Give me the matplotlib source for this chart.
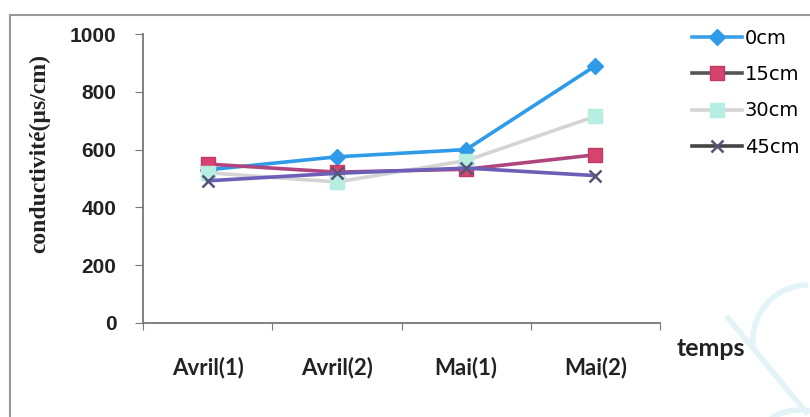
import matplotlib.pyplot as plt
from matplotlib.lines import Line2D
from matplotlib.patches import Arc

# sampling periods and conductivity per depth (µs/cm)
periods = ['Avril(1)', 'Avril(2)', 'Mai(1)', 'Mai(2)']
depths = ['0cm', '15cm', '30cm', '45cm']
cond_0cm = [530, 575, 600, 890]
cond_15cm = [550, 522, 532, 582]
cond_30cm = [520, 488, 562, 715]
cond_45cm = [492, 518, 536, 510]
yticks = [0, 200, 400, 600, 800, 1000]

series = [cond_0cm, cond_15cm, cond_30cm, cond_45cm]
styles = [
    dict(color='#2f9be8', marker='D', ms=8, mfc='#2f9be8', mec='#2f9be8'),
    dict(color='#b0447e', marker='s', ms=10, mfc='#d6436e', mec='#c23a62'),
    dict(color='#d4d4d4', marker='s', ms=10, mfc='#b6efe2', mec='#b6efe2'),
    dict(color='#6c5fb8', marker='x', ms=9, mew=1.8, mec='#555577'),
]

fig = plt.figure(figsize=(8.1, 4.17), dpi=100)

# faint watermark strokes in the lower right corner (drawn first, behind everything)
wm = '#e2f4f6'
fig.add_artist(Line2D([728 / 810, 806 / 810], [1 - 318 / 417, 1 - 412 / 417], color=wm, lw=4, zorder=0))
fig.add_artist(Arc((808 / 810, 1 - 340 / 417), 110 / 810, 110 / 417, theta1=90, theta2=190,
                   transform=fig.transFigure, color=wm, lw=4, zorder=0))
fig.add_artist(Arc((800 / 810, 1 - 430 / 417), 70 / 810, 40 / 417, theta1=20, theta2=160,
                   transform=fig.transFigure, color=wm, lw=4, zorder=0))

ax = fig.add_axes([143 / 810, 1 - 323 / 417, (660 - 143) / 810, (323 - 34) / 417])
ax.patch.set_alpha(0)

x = list(range(len(periods)))
for vals, st in zip(series, styles):
    ax.plot(x, vals, lw=2.6, **st)

ax.set_xlim(-0.5, len(periods) - 0.5)
ax.set_ylim(0, 1000)
ax.set_yticks(yticks)
ax.set_yticklabels([str(v) for v in yticks], fontsize=15, fontweight='bold',
                   family='Liberation Sans', color='#222222')

# category boundaries carry the tick marks, labels sit in between
ax.set_xticks([i - 0.5 for i in range(len(periods) + 1)])
ax.set_xticklabels([])
ax.set_xticks(x, minor=True)
ax.set_xticklabels(periods, minor=True, fontsize=16, fontweight='bold',
                   family='Lato', color='#222222')
ax.tick_params(axis='x', which='minor', length=0, pad=24)
ax.tick_params(axis='x', which='major', length=5, color='#777777', direction='out')
ax.tick_params(axis='y', length=6, color='#777777', pad=13)

for side in ['top', 'right']:
    ax.spines[side].set_visible(False)
for side in ['left', 'bottom']:
    ax.spines[side].set_color('#777777')
    ax.spines[side].set_linewidth(1.3)

fig.text(40 / 810, 1 - 154 / 417, 'conductivité(µs/cm)', rotation=90,
         ha='center', va='center', fontsize=17, fontweight='bold',
         family='Liberation Serif', color='#222222')
fig.text(711 / 810, 1 - 348 / 417, 'temps', ha='center', va='center',
         fontsize=18, fontweight='bold', family='Lato', color='#222222')

handles = [Line2D([], [], lw=2.6, **st) for st in styles]
handles[0].set_color('#3aa0e8')
handles[1].set_color('#555555')
handles[3].set_color('#444444')
fig.legend(handles, depths, loc='upper left', bbox_to_anchor=(674 / 810, 1 - 11 / 417),
           frameon=False, handlelength=2.6, handletextpad=0.15,
           labelspacing=0.9, prop={'family': 'DejaVu Sans', 'size': 14})

# outer chart frame (top and left edges)
fig.add_artist(Line2D([10 / 810, 1], [1 - 15 / 417] * 2, color='#999999', lw=1.5))
fig.add_artist(Line2D([10 / 810] * 2, [0, 1 - 15 / 417], color='#999999', lw=1.5))

fig.savefig('out.png', dpi=100)
